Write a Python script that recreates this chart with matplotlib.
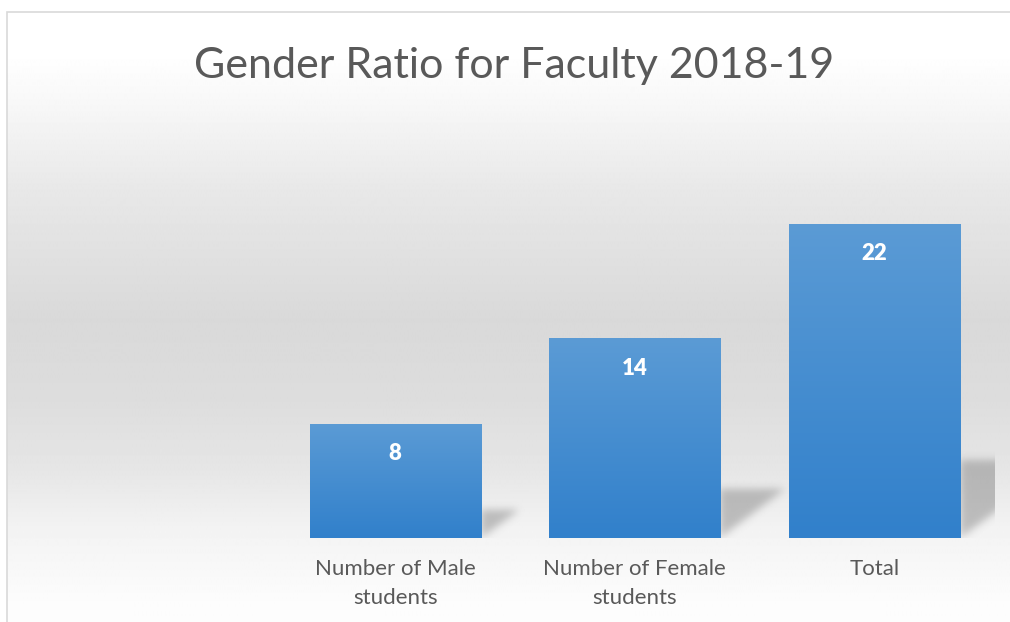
import matplotlib
matplotlib.use("Agg")
import matplotlib.pyplot as plt
import numpy as np
from matplotlib.colors import LinearSegmentedColormap
from matplotlib.patches import Rectangle

# data
categories = ["Number of Male\nstudents", "Number of Female\nstudents", "Total"]
values = [8, 14, 22]
title = "Gender Ratio for Faculty 2018-19"

W, H = 1010, 622
fig = plt.figure(figsize=(W / 100, H / 100), dpi=100)
fig.patch.set_facecolor("white")

# chart area background: vertical gray gradient
bg = fig.add_axes([7 / W, 0, 1 - 7 / W, 1 - 12 / H], zorder=0)
bg.set_axis_off()
ys = np.array([12, 60, 100, 190, 320, 400, 470, 530, 600, 622])
gs = np.array([255, 254, 248, 232, 217, 221, 230, 243, 252, 253]) / 255
rows = np.interp(np.arange(12, 623), ys, gs)
bg.imshow(np.repeat(rows[:, None], 4, axis=1), cmap="gray", vmin=0, vmax=1,
          aspect="auto", extent=[0, 1, 0, 1], interpolation="bilinear")
bg.set_xlim(0, 1)
bg.set_ylim(0, 1)
fig.patches.append(Rectangle((7 / W, -0.1), 1.2, 1 - 12 / H + 0.1,
                             transform=fig.transFigure, fill=False,
                             edgecolor="#d9d9d9", linewidth=1.2, zorder=1))

fig.text(514 / W, 1 - 78 / H, title, ha="center", va="baseline",
         fontsize=31, family="Lato", weight="normal", color="#595959")

ax = fig.add_axes([36 / W, 84 / H, 958 / W, 357 / H], zorder=2)
ax.patch.set_alpha(0)
x = np.arange(1, len(values) + 1)
bars = ax.bar(x, values, width=0.714, color="#4a8fd2", zorder=3)
ax.set_xlim(-0.5, 3.5)
ax.set_ylim(0, 25)

# pixel sizes of one data unit, for the shadow
px_x = 958 / 4
px_y = 357 / 25


def blur(a, s):
    k = np.exp(-0.5 * (np.arange(-3 * s, 3 * s + 1) / s) ** 2)
    k /= k.sum()
    a = np.apply_along_axis(lambda r: np.convolve(r, k, mode="same"), 1, a)
    return np.apply_along_axis(lambda c: np.convolve(c, k, mode="same"), 0, a)


blue = LinearSegmentedColormap.from_list("bl", ["#3180cb", "#5b9bd5"])
grad = np.linspace(0, 1, 256)[:, None]
for b, v in zip(bars, values):
    x0, w = b.get_x(), b.get_width()
    im = ax.imshow(grad, cmap=blue, origin="lower", aspect="auto",
                   extent=[x0, x0 + w, 0, v], zorder=4)
    im.set_clip_path(b)

    # soft shadow cast to the back right of the bar
    xr = x0 + w
    hp = v * px_y
    top = 0.25 * hp
    d = 0.33 * hp
    m = 14
    gx = np.arange(-m, d + m)
    gy = np.arange(-m, top + m)
    X, Y = np.meshgrid(gx, gy)
    mask = ((X >= 0) & (Y <= top) & (Y >= X * top / d)).astype(float)
    mask = blur(mask, 4)
    rgba = np.zeros(mask.shape + (4,))
    rgba[..., :3] = 0.45
    rgba[..., 3] = mask * 0.42
    ax.imshow(rgba, origin="lower", aspect="auto", interpolation="bilinear",
              extent=[xr + gx[0] / px_x, xr + gx[-1] / px_x,
                      gy[0] / px_y, gy[-1] / px_y], zorder=2)

    ax.annotate(str(v), (b.get_x() + w / 2, v), xytext=(0, -30),
                textcoords="offset pixels", ha="center", va="center",
                color="white", fontsize=16, family="Lato", weight="heavy",
                zorder=6)

ax.set_xlim(-0.5, 3.5)
ax.set_ylim(0, 25)
ax.set_xticks(x)
ax.set_xticklabels(categories, fontsize=16, family="Lato", color="#595959",
                   linespacing=1.6)
ax.tick_params(axis="x", length=0, pad=15)
ax.set_yticks([])
for s in ax.spines.values():
    s.set_visible(False)

fig.savefig("out.png", dpi=100)
